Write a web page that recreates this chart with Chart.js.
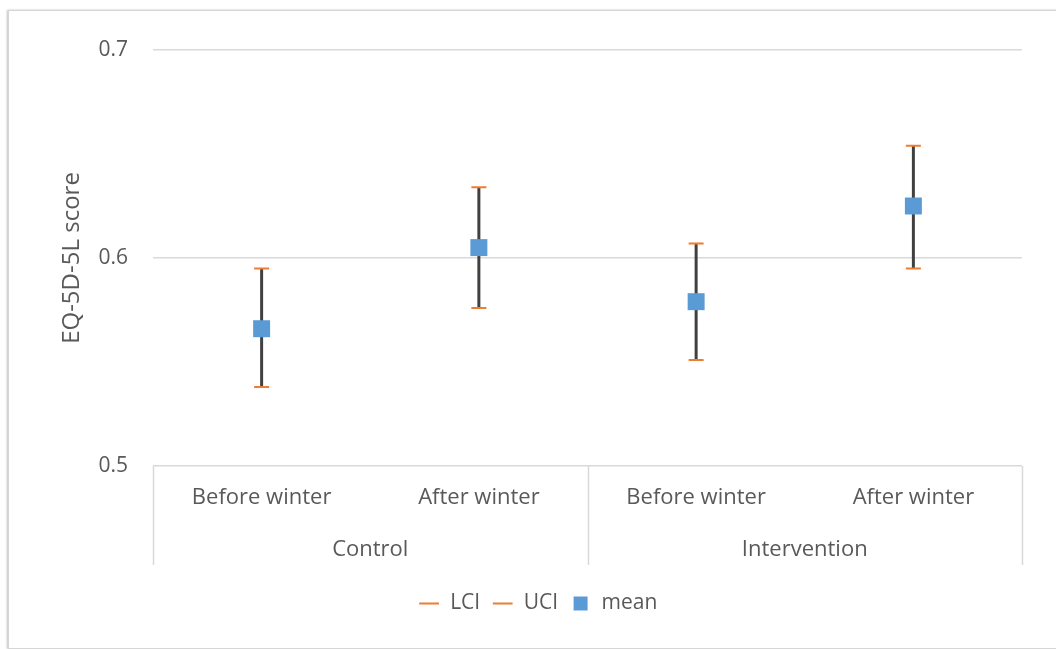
<!DOCTYPE html>
<html>
<head>
<meta charset="utf-8">
<script src="https://cdn.jsdelivr.net/npm/chart.js@4.4.1/dist/chart.umd.min.js"></script>
<style>
  html, body { margin: 0; padding: 0; background: #ffffff; overflow: hidden; }
  #frame { position: absolute; left: 8px; top: 10px; width: 1100px; height: 637px;
           border: 1px solid #d6d6d6; box-shadow: -1px 0 2px rgba(0,0,0,0.25); background: #fff; }
  #wrap { position: absolute; left: 0; top: 0; width: 1056px; height: 649px; }
</style>
</head>
<body>
<div id="frame"></div>
<div id="wrap"><canvas id="c" width="1056" height="649"></canvas></div>
<script>
const categories = ['Before winter', 'After winter', 'Before winter', 'After winter'];
const groups = ['Control', 'Intervention'];
const lci  = [0.538, 0.576, 0.551, 0.595];
const uci  = [0.595, 0.634, 0.607, 0.654];
const mean = [0.566, 0.605, 0.579, 0.625];
const yTicks = [0.5, 0.6, 0.7];

const FONT = '"Open Sans", sans-serif';
const TXT = '#595959';
const GRID = '#d9d9d9';

const errorBars = {
  id: 'errorBars',
  beforeDatasetsDraw(chart) {
    const {ctx, scales: {x, y}} = chart;
    ctx.save();
    ctx.strokeStyle = '#404040';
    ctx.lineWidth = 3;
    for (let i = 0; i < mean.length; i++) {
      const px = x.getPixelForValue(i);
      ctx.beginPath();
      ctx.moveTo(px, y.getPixelForValue(lci[i]));
      ctx.lineTo(px, y.getPixelForValue(uci[i]));
      ctx.stroke();
    }
    ctx.restore();
  },
  afterDraw(chart) {
    const {ctx, chartArea, scales: {x}} = chart;
    const bottom = chartArea.bottom + 99;
    const mid = (x.getPixelForValue(1) + x.getPixelForValue(2)) / 2;
    ctx.save();
    ctx.strokeStyle = GRID;
    ctx.lineWidth = 1.5;
    [chartArea.left, mid, chartArea.right].forEach(px => {
      ctx.beginPath();
      ctx.moveTo(Math.round(px) + 0.5, chartArea.bottom);
      ctx.lineTo(Math.round(px) + 0.5, bottom);
      ctx.stroke();
    });
    ctx.fillStyle = TXT;
    ctx.font = '22px ' + FONT;
    ctx.textAlign = 'center';
    ctx.textBaseline = 'middle';
    groups.forEach((g, gi) => {
      const cx = (x.getPixelForValue(gi * 2) + x.getPixelForValue(gi * 2 + 1)) / 2;
      ctx.fillText(g, cx, chartArea.bottom + 84);
    });
    ctx.restore();
  }
};

new Chart(document.getElementById('c'), {
  type: 'line',
  data: {
    labels: categories,
    datasets: [
      { label: 'LCI', data: lci, showLine: false, pointStyle: 'line', pointRadius: 7.5,
        pointBorderWidth: 2, borderColor: '#ed7d31', backgroundColor: '#ed7d31', pointHoverRadius: 7.5 },
      { label: 'UCI', data: uci, showLine: false, pointStyle: 'line', pointRadius: 7.5,
        pointBorderWidth: 2, borderColor: '#ed7d31', backgroundColor: '#ed7d31', pointHoverRadius: 7.5 },
      { label: 'mean', data: mean, showLine: false, pointStyle: 'rect', pointRadius: 12,
        pointBorderWidth: 0, borderColor: '#5b9bd5', backgroundColor: '#5b9bd5', pointHoverRadius: 12 }
    ]
  },
  options: {
    responsive: false,
    animation: false,
    events: [],
    layout: { padding: { left: 54, right: 34, top: 50, bottom: 25 } },
    plugins: {
      tooltip: { enabled: false },
      legend: {
        position: 'bottom',
        labels: {
          usePointStyle: true,
          color: TXT,
          font: { family: FONT, size: 21 },
          boxHeight: 14,
          padding: 12
        }
      }
    },
    scales: {
      x: {
        type: 'category',
        offset: true,
        grid: { display: false, drawTicks: false },
        border: { display: false },
        ticks: { color: TXT, font: { family: FONT, size: 22 }, padding: 19, maxRotation: 0, autoSkip: false },
        afterFit(s) { s.height = 115; }
      },
      y: {
        min: 0.5, max: 0.7,
        afterBuildTicks(s) { s.ticks = yTicks.map(v => ({ value: v })); },
        grid: { color: GRID, lineWidth: 1.5, drawTicks: false },
        border: { display: false },
        ticks: { color: TXT, font: { family: FONT, size: 21 }, padding: 25,
                 callback: v => v.toFixed(1) },
        title: { display: true, text: 'EQ-5D-5L score', color: TXT,
                 font: { family: FONT, size: 24 }, padding: { top: 4, bottom: 0 } },
        afterFit(s) { s.width = 99; }
      }
    }
  },
  plugins: [errorBars]
});
</script>
</body>
</html>
